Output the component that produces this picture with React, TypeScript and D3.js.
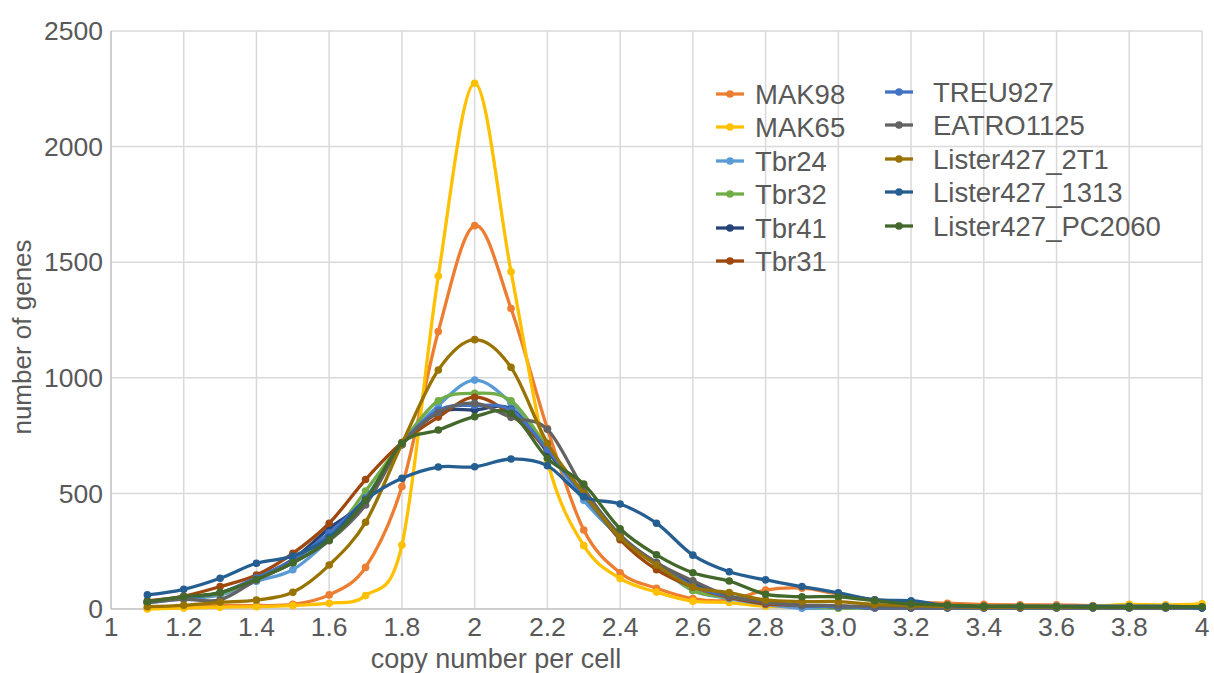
import React from "react";
import * as d3 from "d3";

const xValues = [1.1,1.2,1.3,1.4,1.5,1.6,1.7,1.8,1.9,2.0,2.1,2.2,2.3,2.4,2.5,2.6,2.7,2.8,2.9,3.0,3.1,3.2,3.3,3.4,3.5,3.6,3.7,3.8,3.9,4.0];

const MAK98 = [5,8,15,15,20,61,180,530,1200,1658,1300,780,342,157,90,45,38,82,90,65,40,30,25,20,18,18,15,15,15,15];
const MAK65 = [0,4,8,10,15,25,58,277,1440,2274,1459,640,274,132,73,34,28,12,10,10,10,10,12,12,12,12,12,20,18,22];
const Tbr24 = [25,45,60,120,170,300,470,710,880,990,890,690,470,310,190,80,45,20,3,5,5,5,5,5,5,5,5,5,5,5];
const Tbr32 = [30,50,65,130,200,305,510,720,901,933,901,700,490,305,198,80,50,30,15,3,5,5,5,5,5,5,5,5,5,5];
const Tbr41 = [30,50,70,135,215,349,470,715,849,861,864,680,500,310,200,110,55,30,15,10,5,5,5,5,5,5,5,5,5,5];
const Tbr31 = [35,56,97,147,241,371,560,720,830,916,840,690,500,300,170,95,50,22,15,10,5,5,5,5,5,5,5,5,5,5];
const TREU927 = [30,50,70,135,210,330,480,715,860,880,860,690,490,310,195,100,55,30,15,10,5,5,5,5,5,5,5,5,5,5];
const EATRO1125 = [28,42,40,125,200,295,450,710,850,890,829,777,520,320,200,122,56,30,17,15,10,8,8,8,8,8,8,8,8,8];
const Lister427_2T1 = [10,16,29,39,72,190,375,715,1034,1165,1045,717,500,310,190,95,71,39,32,32,20,15,10,8,8,8,8,8,8,8];
const Lister427_1313 = [61,85,133,198,229,310,471,565,614,615,649,620,486,454,371,233,161,126,97,70,40,36,15,12,12,12,12,12,12,5];
const Lister427_PC2060 = [32,53,71,128,200,298,470,717,774,832,846,652,540,347,234,157,121,64,53,53,36,22,17,12,12,10,8,8,8,10];

const seriesNames = ["MAK98","MAK65","Tbr24","Tbr32","Tbr41","Tbr31","TREU927","EATRO1125","Lister427_2T1","Lister427_1313","Lister427_PC2060"];
const seriesValues = [MAK98,MAK65,Tbr24,Tbr32,Tbr41,Tbr31,TREU927,EATRO1125,Lister427_2T1,Lister427_1313,Lister427_PC2060];
const seriesColors = ["#ED7D31","#FFC000","#5B9BD5","#70AD47","#264478","#9E480E","#4472C4","#636363","#997300","#255E91","#43682B"];

const xTicks = [1,1.2,1.4,1.6,1.8,2,2.2,2.4,2.6,2.8,3.0,3.2,3.4,3.6,3.8,4];
const xTickLabels = ["1","1.2","1.4","1.6","1.8","2","2.2","2.4","2.6","2.8","3.0","3.2","3.4","3.6","3.8","4"];
const yTicks = [0,500,1000,1500,2000,2500];

const W = 1214, H = 673;
const M = { left: 111, right: 1202, top: 31, bottom: 609 };
const FONT = "'Liberation Sans', Arial, Helvetica, sans-serif";
const TEXT = "#595959";

export default function App() {
  const x = d3.scaleLinear().domain([1, 4]).range([M.left, M.right]);
  const y = d3.scaleLinear().domain([0, 2500]).range([M.bottom, M.top]);
  const line = d3.line<number>()
    .x((_, i) => x(xValues[i]))
    .y((v) => y(v))
    .curve(d3.curveCardinal.tension(0));

  const legendRows = [94, 127, 161, 194, 228, 261];
  const legendItems = seriesNames.map((name, i) => {
    const col = i < 6 ? 0 : 1;
    const row = i < 6 ? i : i - 6;
    return { name, color: seriesColors[i], lx: col === 0 ? 716 : 885, tx: col === 0 ? 755 : 933, ly: legendRows[row] - (col === 1 ? 2 : 0) };
  });

  return (
    <svg width={W} height={H} style={{ position: "absolute", left: 0, top: 0, background: "#fff" }} fontFamily={FONT}>
      <rect x={0} y={0} width={W} height={H} fill="#fff" />
      {xTicks.map((t, i) => i === 0 ? null : (
        <line key={"gx" + i} x1={x(t)} x2={x(t)} y1={M.top} y2={M.bottom} stroke="#D9D9D9" strokeWidth={1.5} />
      ))}
      {yTicks.map((t, i) => i === 0 ? null : (
        <line key={"gy" + i} x1={M.left} x2={M.right} y1={y(t)} y2={y(t)} stroke="#D9D9D9" strokeWidth={1.5} />
      ))}
      <line x1={M.left} x2={M.left} y1={M.top} y2={M.bottom} stroke="#BFBFBF" strokeWidth={1.5} />
      <line x1={M.left} x2={M.right} y1={M.bottom} y2={M.bottom} stroke="#BFBFBF" strokeWidth={1.5} />
      {yTicks.map((t) => (
        <text key={"yl" + t} x={103} y={y(t)} dy="0.35em" textAnchor="end" fontSize={26.5} fill={TEXT}>{t}</text>
      ))}
      {xTicks.map((t, i) => (
        <text key={"xl" + i} x={x(t)} y={636} textAnchor="middle" fontSize={26.5} fill={TEXT}>{xTickLabels[i]}</text>
      ))}
      <text x={496} y={668} textAnchor="middle" fontSize={27} fill={TEXT}>copy number per cell</text>
      <text transform={`translate(31,337) rotate(-90)`} textAnchor="middle" fontSize={26} fill={TEXT}>number of genes</text>
      {seriesValues.map((vals, si) => (
        <g key={"s" + si}>
          <path d={line(vals) || ""} fill="none" stroke={seriesColors[si]} strokeWidth={3.3} strokeLinejoin="round" />
          {vals.map((v, i) => (
            <circle key={i} cx={x(xValues[i])} cy={y(v)} r={3.8} fill={seriesColors[si]} />
          ))}
        </g>
      ))}
      {legendItems.map((it) => (
        <g key={it.name}>
          <line x1={it.lx} x2={it.lx + 28} y1={it.ly} y2={it.ly} stroke={it.color} strokeWidth={3.3} />
          <circle cx={it.lx + 14} cy={it.ly} r={3.8} fill={it.color} />
          <text x={it.tx} y={it.ly} dy="0.35em" fontSize={27.5} fill={TEXT}>{it.name}</text>
        </g>
      ))}
    </svg>
  );
}
